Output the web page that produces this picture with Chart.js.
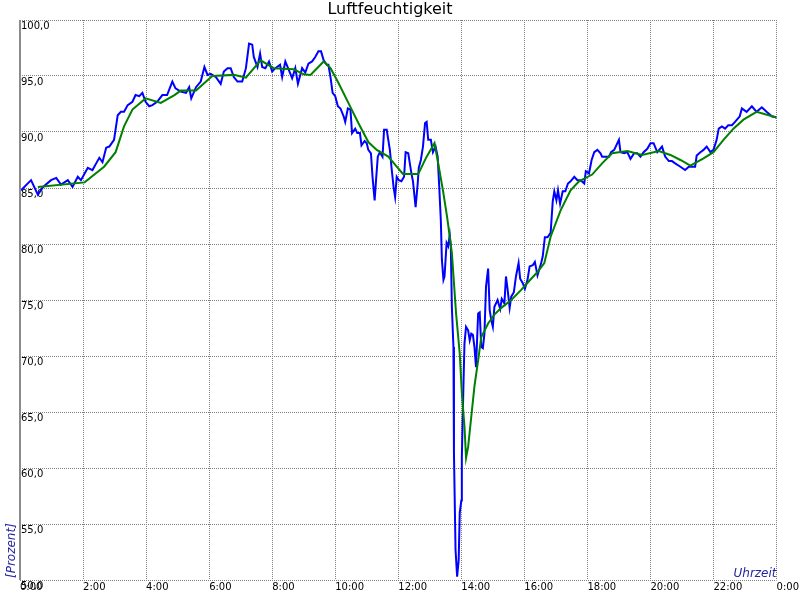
<!DOCTYPE html>
<html>
<head>
<meta charset="utf-8">
<title>Luftfeuchtigkeit</title>
<script src="https://cdn.jsdelivr.net/npm/chart.js@4"></script>
<style>
  body { margin: 0; background: #fff; }
  #wrap { width: 800px; height: 600px; }
</style>
</head>
<body>
<div id="wrap"><canvas id="myChart"></canvas></div>
<script>
// minutes since midnight and humidity in percent
var rawMinutes = [2,21,34,44,59,69,78,91,100,110,116,123,129,138,145,151,157,164,170,179,
  186,192,198,205,214,220,227,233,239,246,252,261,271,280,290,296,306,316,322,326,
  335,344,351,357,363,373,382,388,395,401,407,414,423,430,436,442,445,452,457,461,
  467,474,480,486,495,499,505,512,518,524,529,537,543,549,556,562,568,573,578,584,
  587,591,595,600,605,610,616,619,624,629,632,638,642,647,650,656,660,663,668,671,
  675,678,681,685,690,693,698,701,704,707,711,714,717,721,726,731,734,739,742,745,
  748,753,757,759,763,767,771,774,777,782,786,791,795,798,801,803,806,808,812,815,
  818,820,822,825,826,829,832,835,837,840,841,844,846,849,853,856,859,862,865,868,
  872,875,878,881,884,887,891,894,897,900,903,909,914,917,922,925,928,932,935,940,
  944,949,952,957,961,966,970,976,980,985,992,995,999,1004,1010,1014,1017,1021,1024,1028,
  1033,1038,1043,1048,1055,1061,1067,1074,1077,1083,1088,1093,1099,1105,1108,1115,1121,1125,1131,1140,
  1143,1150,1156,1162,1169,1175,1181,1187,1194,1200,1206,1213,1222,1228,1235,1241,1247,1257,1266,1273,
  1279,1285,1288,1295,1301,1307,1314,1320,1326,1330,1336,1342,1348,1355,1361,1370,1374,1383,1393,1402,
  1412,1421,1431,1440];
var rawValues = [84.8,85.7,84.4,85.1,85.7,85.9,85.3,85.7,85.1,86.0,85.7,86.3,86.8,86.6,87.2,87.7,87.3,88.6,88.7,89.3,
  91.5,91.8,91.8,92.4,92.7,93.3,93.2,93.5,92.7,92.3,92.4,92.7,93.3,93.3,94.5,93.9,93.6,93.5,94.0,93.0,
  94.0,94.5,95.8,95.1,95.2,94.9,94.3,95.4,95.7,95.7,94.9,94.5,94.5,95.7,97.9,97.8,96.7,95.8,97.0,95.8,
  95.7,96.3,95.4,95.7,96.0,94.9,96.3,95.5,94.8,95.7,94.3,95.7,95.3,96.1,96.3,96.7,97.2,97.2,96.4,96.0,
  96.0,94.9,93.5,93.2,92.3,92.1,91.4,90.9,92.1,92.0,89.9,90.3,89.9,89.9,88.8,89.2,89.0,88.4,88.1,86.0,
  83.9,85.9,87.8,88.2,87.8,90.2,90.2,89.3,88.4,86.9,85.1,84.2,86.0,85.7,85.6,86.0,88.2,88.1,87.2,86.3,
  85.6,83.3,85.4,86.8,87.5,88.7,90.8,90.9,89.3,89.3,88.2,88.7,87.8,85.1,82.1,78.6,76.8,77.1,80.1,79.8,
  80.8,79.8,74.4,70.8,61.3,52.7,50.3,51.8,56.0,57.1,61.0,67.3,71.1,72.6,72.3,71.4,72.0,71.9,70.8,69.0,
  73.8,73.9,70.8,70.7,72.0,76.2,77.8,74.1,73.2,72.6,74.4,75.0,74.2,75.1,74.7,77.1,76.0,74.3,75.3,75.7,
  77.1,78.3,76.9,76.5,76.0,76.8,78.0,78.1,78.4,77.2,78.3,78.9,80.6,80.6,81.0,83.8,84.7,83.9,84.8,83.6,
  84.7,84.7,85.4,85.6,86.0,85.7,85.7,85.4,86.5,86.3,87.5,88.2,88.4,88.1,87.8,87.8,87.8,88.2,88.4,89.3,
  88.2,88.1,88.2,87.6,88.1,88.1,87.8,88.2,88.5,89.0,89.0,88.2,88.7,87.8,87.4,87.4,87.2,86.9,86.6,86.9,
  86.9,86.9,87.9,88.2,88.4,88.7,88.2,88.4,89.3,90.3,90.5,90.3,90.6,90.6,90.9,91.4,92.1,91.8,92.3,91.8,
  92.2,91.8,91.4,91.3];

// smoothed curve
var avgMinutes = [34,123,160,182,198,214,239,268,294,306,335,366,407,430,458,483,521,540,553,578,
  591,606,625,644,663,679,701,717,729,758,774,789,796,805,813,822,830,837,841,846,
  849,853,859,865,872,878,891,903,916,935,954,973,985,998,1010,1029,1048,1064,1089,1108,
  1127,1156,1184,1216,1238,1257,1276,1301,1320,1339,1358,1377,1402,1440];
var avgValues = [85.1,85.5,86.9,88.2,90.5,92.0,93.0,92.6,93.3,93.7,93.7,95.0,95.1,94.85,96.4,95.7,95.6,95.15,95.1,96.3,
  95.7,94.4,92.6,90.8,89.1,88.4,87.8,86.9,86.25,86.25,87.8,89.0,87.2,84.8,82.4,79.2,73.8,70.2,66.7,63.7,
  60.9,61.9,64.6,67.3,69.6,71.7,72.9,73.7,74.3,75.0,75.9,76.9,77.5,78.3,80.65,83.0,84.8,85.6,86.2,87.2,
  88.1,88.3,87.95,88.3,87.95,87.5,87.0,87.65,88.2,89.3,90.3,91.1,91.8,91.3];

var xTicks = [0, 120, 240, 360, 480, 600, 720, 840, 960, 1080, 1200, 1320, 1440];

function toPoints(xs, ys) {
  var out = [];
  for (var i = 0; i < xs.length; i++) out.push({ x: xs[i], y: ys[i] });
  return out;
}

// axis names and left axis line
var axisText = {
  id: 'axisText',
  afterDraw: function (chart) {
    var c = chart.ctx, a = chart.chartArea;
    c.save();
    c.strokeStyle = '#8c8c8c';
    c.lineWidth = 2;
    c.beginPath();
    c.moveTo(a.left, a.top);
    c.lineTo(a.left, a.bottom);
    c.stroke();
    c.fillStyle = '#2424a0';
    c.font = 'italic 12px "DejaVu Sans"';
    c.textAlign = 'right';
    c.textBaseline = 'alphabetic';
    c.fillText('Uhrzeit', a.right, a.bottom - 3);
    c.translate(15, a.bottom - 2);
    c.rotate(-Math.PI / 2);
    c.textAlign = 'left';
    c.fillText('[Prozent]', 0, 0);
    c.restore();
  }
};

const ctx = document.getElementById('myChart').getContext('2d');
const myChart = new Chart(ctx, {
  type: 'line',
  data: {
    datasets: [{
      label: 'Mittel',
      data: toPoints(avgMinutes, avgValues),
      borderColor: '#008000',
      borderWidth: 2,
      pointRadius: 0,
      tension: 0
    }, {
      label: 'Messwert',
      data: toPoints(rawMinutes, rawValues),
      borderColor: '#0000ff',
      borderWidth: 2,
      pointRadius: 0,
      tension: 0
    }]
  },
  options: {
    responsive: true,
    maintainAspectRatio: false,
    animation: false,
    layout: { padding: { left: 0, right: 20, top: 0, bottom: 0 } },
    plugins: {
      legend: { display: false },
      tooltip: { enabled: false },
      title: {
        display: true,
        text: 'Luftfeuchtigkeit',
        color: '#000',
        font: { family: 'DejaVu Sans', size: 16, weight: 'normal', lineHeight: 1.15 },
        padding: { top: 1, bottom: 0.6 }
      }
    },
    scales: {
      x: {
        type: 'linear',
        min: 0,
        max: 1440,
        afterBuildTicks: function (s) { s.ticks = xTicks.map(function (v) { return { value: v }; }); },
        afterFit: function (s) { s.height = 20; },
        grid: { color: '#808080', lineWidth: 1, drawTicks: false },
        border: { display: false, dash: [1, 1] },
        ticks: {
          autoSkip: false,
          maxRotation: 0,
          align: 'start',
          padding: 1,
          color: '#000',
          font: { family: 'DejaVu Sans', size: 10 },
          callback: function (v) { return ((v / 60) % 24) + ':00'; }
        }
      },
      y: {
        min: 50,
        max: 100,
        afterFit: function (s) { s.width = 20; },
        grid: { color: '#808080', lineWidth: 1, drawTicks: false },
        border: { display: false, dash: [1, 1] },
        ticks: {
          stepSize: 5,
          mirror: true,
          padding: 1,
          labelOffset: 6,
          color: '#000',
          font: { family: 'DejaVu Sans', size: 10 },
          callback: function (v) { return v.toFixed(1).replace('.', ','); }
        }
      }
    }
  },
  plugins: [axisText]
});
</script>
</body>
</html>
